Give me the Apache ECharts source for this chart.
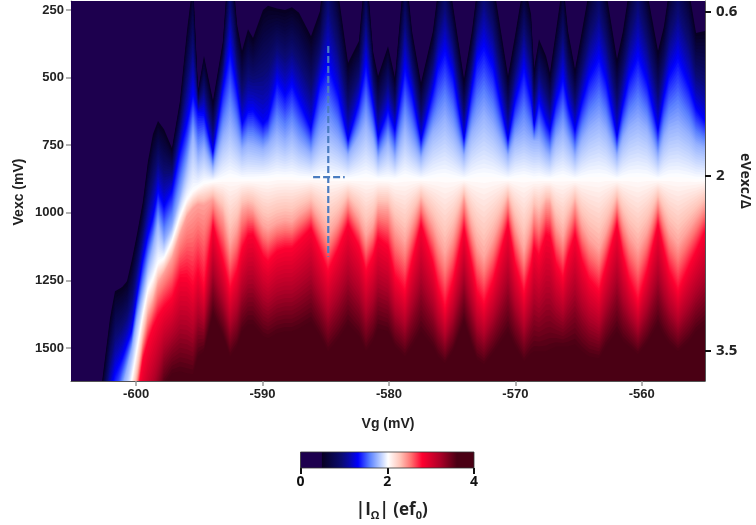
<!DOCTYPE html>
<html><head><meta charset="utf-8">
<style>html,body{margin:0;padding:0;background:#fff}#c{width:756px;height:525px}</style>
<script src="https://cdn.jsdelivr.net/npm/echarts@6/dist/echarts.min.js"></script>
</head><body><div id="c"></div>
<script>
// Gate voltage of each read column (mV)
const vg = [-605.15,-602.7,-602.1,-601.7,-601.1,-600.7,-600.3,-599.9,-599.45,-599.05,-598.7,-598.25,-597.8,-597.15,-596.5,-595.95,-595.5,-595.1,-594.6,-593.9,-593.1,-592.55,-592,-591.6,-591.15,-590.75,-589.95,-589.6,-588.85,-588.2,-587.65,-587.15,-586.2,-585.45,-584.8,-584,-583.2,-582.4,-581.85,-581.3,-580.85,-580.1,-579.55,-578.7,-578.15,-577.45,-576.55,-576.15,-575.55,-574.95,-574.1,-573.4,-573,-572.45,-571.75,-570.6,-570,-569.35,-568.8,-568.55,-568.1,-567.6,-567.3,-566.75,-566.25,-565.8,-565.3,-564.7,-564.2,-563.4,-562.85,-562,-561.5,-561,-560.3,-559.6,-558.75,-558.25,-557.85,-557.1,-556.3,-555.75,-555];
// Vexc (mV) at which |I| reaches each colour level, per column
const vexcAt0p5 = [3177,1627,1390,1290,1275,1253,1172,1079,957,809,709,661,691,761,587,328,143,550,420,587,365,-5,302,402,321,354,250,235,245,250,240,260,347,254,-42,180,446,365,69,402,495,384,502,69,328,520,328,180,32,235,506,328,180,-5,143,495,347,143,265,469,358,420,483,328,143,328,469,328,180,32,180,432,328,180,-5,180,402,310,180,32,180,335,328];
const vexcAt1p33 = [3547,1864,1678,1593,1538,1486,1434,1309,1172,1083,1016,920,976,920,772,668,561,630,635,783,540,402,550,672,624,620,672,650,513,565,524,585,690,520,450,560,735,590,450,600,724,620,698,465,560,735,550,460,402,490,735,540,430,385,460,735,590,465,580,687,587,665,698,590,502,600,698,590,500,428,510,724,600,500,420,515,698,570,490,428,530,615,661];
const vexcAt1p75 = [3732,2104,1900,1801,1653,1579,1501,1394,1290,1198,1124,1040,1105,1050,939,828,709,790,761,835,720,672,725,765,746,750,765,750,709,735,709,745,783,725,698,735,787,720,672,730,798,740,795,687,740,798,700,680,650,700,790,700,670,635,680,790,730,709,730,735,735,775,790,730,698,735,790,730,690,661,695,790,725,685,661,690,790,720,685,672,710,745,761];
const vexcAt2p02 = [3917,2252,2030,1956,1808,1723,1612,1505,1375,1283,1242,1186,1168,1105,1013,950,920,905,890,883,876,868,872,876,876,876,872,872,868,868,868,872,872,868,868,872,876,872,868,872,876,876,876,868,872,876,872,868,868,872,876,872,868,868,868,876,872,868,872,876,872,876,876,872,868,872,876,872,868,868,868,876,872,868,868,868,876,872,868,868,872,876,876];
const vexcAt2p4 = [3991,2345,2122,2049,1938,1845,1727,1612,1468,1375,1327,1260,1223,1168,1079,1013,983,968,972,950,1008,1115,1059,990,978,987,1047,1059,1038,1029,1034,1008,975,1029,1085,1029,957,1021,1085,1047,983,987,1059,1110,1038,957,1047,1097,1154,1085,946,1059,1123,1169,1097,950,1047,1143,1047,996,1021,965,965,1047,1092,1034,965,1047,1097,1136,1072,957,1029,1085,1136,1072,957,1021,1072,1118,1059,1021,975];
const vexcAt2p8 = [4028,2400,2178,2086,1986,1900,1790,1690,1542,1475,1423,1383,1349,1316,1238,1238,1271,1216,1279,1046,1179,1283,1216,1135,1083,1079,1160,1179,1142,1131,1131,1105,1057,1142,1216,1135,1042,1124,1216,1160,1094,1124,1235,1290,1179,1042,1186,1271,1353,1253,1057,1197,1290,1338,1253,1042,1186,1301,1197,1124,1160,1079,1087,1186,1242,1160,1079,1179,1246,1290,1197,1042,1160,1246,1327,1216,1042,1142,1216,1290,1197,1142,1068];
const vexcAt3p6 = [4287,2807,2585,2511,2437,2363,2289,2178,2030,1919,1845,1752,1641,1593,1586,1593,1597,1531,1512,1375,1456,1531,1494,1438,1412,1412,1456,1464,1445,1438,1438,1427,1401,1456,1512,1468,1412,1456,1512,1475,1427,1438,1494,1531,1494,1438,1494,1531,1556,1512,1401,1494,1542,1560,1519,1438,1494,1549,1519,1512,1512,1512,1505,1494,1494,1494,1486,1512,1531,1538,1494,1438,1475,1494,1523,1482,1412,1456,1482,1512,1475,1438,1412];
const levelValues = [0.5,1.33,1.75,2.02,2.4,2.8,3.6];
// Colour scale and axis ticks
const colorStops = [[0,'#1d004e'],[0.49,'#1d004e'],[0.5,'#070020'],[0.95,'#0a0a70'],[1.15,'#0808b0'],[1.33,'#0000ff'],[1.6,'#5a80ff'],[1.8,'#a8c0ff'],[2.02,'#ffffff'],[2.3,'#ffc4b8'],[2.55,'#ff7070'],[2.8,'#ff0030'],[3.2,'#b00028'],[3.6,'#4a0014'],[4,'#4a0014']];
const vgTicks = [-600,-590,-580,-570,-560];
const vexcTicks = [250,500,750,1000,1250,1500];
const ratioTicks = [0.6,2,3.5];
const cbarTicks = [0,2,4];
// Blue dashed cross
const crossV = [[-584.8,383],[-584.8,1163]];
const crossH = [[-586,868],[-583.5,868]];

function hex(c){return [1,3,5].map(i=>parseInt(c.substr(i,2),16));}
function colorOf(v){
  for(let i=1;i<colorStops.length;i++){
    if(v<=colorStops[i][0]){
      const a=colorStops[i-1],b=colorStops[i],t=(v-a[0])/(b[0]-a[0]||1);
      const A=hex(a[1]),B=hex(b[1]);
      return 'rgb('+A.map((x,j)=>Math.round(x+(B[j]-x)*t)).join(',')+')';
    }
  }
  return colorStops[colorStops.length-1][1];
}
const levels=[vexcAt0p5,vexcAt1p33,vexcAt1p75,vexcAt2p02,vexcAt2p4,vexcAt2p8,vexcAt3p6];
const subBands=[24,16,14,14,16,20];
const FLOOR=5000;
const YMIN=217,YMAX=1622;
const rows=vg.map((v,i)=>[v].concat(levels.map(a=>a[i])));

function poly(api,x0,x1,a0,a1,col){
  const pts=[[x0,a0],[x1,a1],[x1,FLOOR],[x0,FLOOR]].map(p=>{const c=api.coord(p);return [Math.round(c[0]),c[1]];});
  return {type:'polygon',shape:{points:pts},style:{fill:col}};
}
function renderField(params,api){
  const i=params.dataIndex;
  if(i>=rows.length-1) return {type:'group',children:[]};
  const r0=rows[i],r1=rows[i+1],x0=r0[0],x1=r1[0],ch=[];
  ch.push(poly(api,x0,x1,-500,-500,colorOf(0.2)));
  for(let k=0;k<levelValues.length-1;k++){
    const n=subBands[k];
    for(let s=0;s<n;s++){
      const t=s/n;
      const a0=r0[k+1]+(r0[k+2]-r0[k+1])*t;
      const a1=r1[k+1]+(r1[k+2]-r1[k+1])*t;
      const val=levelValues[k]+(levelValues[k+1]-levelValues[k])*(s+0.5)/n;
      ch.push(poly(api,x0,x1,a0,a1,colorOf(val)));
    }
  }
  ch.push(poly(api,x0,x1,r0[7],r1[7],colorOf(3.9)));
  return {type:'group',children:ch};
}
function renderBar(params,api){
  const p0=api.coord([0,1]),p1=api.coord([4,0]);
  return {type:'rect',shape:{x:p0[0],y:p0[1],width:p1[0]-p0[0],height:p1[1]-p0[1]},
    style:{stroke:'#333',lineWidth:0.8,fill:new echarts.graphic.LinearGradient(0,0,1,0,colorStops.map(s=>({offset:s[0]/4,color:s[1]})))}};
}
const FONT='"Open Sans"',ARIAL='"Liberation Sans"';
const plain=v=>String(v);
const chart=echarts.init(document.getElementById('c'),null,{renderer:'canvas'});
chart.setOption({
  animation:false,
  backgroundColor:'#fff',
  graphic:[
    {type:'text',x:19,y:192,rotation:Math.PI/2,style:{text:'Vexc (mV)',align:'center',verticalAlign:'middle',fill:'#222',font:'bold 14px "Liberation Sans"'}},
    {type:'text',x:745,y:181,rotation:-Math.PI/2,style:{text:'eVexc/Δ',align:'center',verticalAlign:'middle',fill:'#222',font:'bold 14px "Open Sans"'}}
  ],
  grid:[{left:71,top:1,width:634,height:380,outerBoundsMode:'none'},{left:300.5,top:452,width:173.5,height:16,outerBoundsMode:'none'}],
  xAxis:[
    {type:'value',gridIndex:0,min:-605.15,max:-555,position:'bottom',
     axisLine:{show:true,onZero:false,lineStyle:{color:'#555',width:1}},
     axisTick:{show:true,customValues:vgTicks,length:5,lineStyle:{color:'#999',width:1.5}},
     axisLabel:{customValues:vgTicks,formatter:plain,color:'#222',fontFamily:ARIAL,fontWeight:'bold',fontSize:13,margin:7},
     splitLine:{show:false},
     name:'Vg (mV)',nameLocation:'middle',nameGap:36,nameTextStyle:{color:'#222',fontFamily:ARIAL,fontWeight:'bold',fontSize:14}},
    {type:'value',gridIndex:0,min:-605.15,max:-555,position:'top',
     axisLine:{show:true,onZero:false,lineStyle:{color:'#aaa',width:1}},axisTick:{show:false},axisLabel:{show:false},splitLine:{show:false}},
    {type:'value',gridIndex:1,min:0,max:4,
     axisLine:{show:false},
     axisTick:{show:true,customValues:cbarTicks,length:6,lineStyle:{color:'#111',width:2}},
     axisLabel:{customValues:cbarTicks,formatter:plain,color:'#111',fontFamily:FONT,fontWeight:'bold',fontSize:14,margin:7},
     splitLine:{show:false},
     name:'{a||I}{s|Ω}{a|| (ef}{s|0}{a|)}',nameLocation:'middle',nameGap:31,
     nameTextStyle:{padding:[0,0,0,9],rich:{a:{fontFamily:FONT,fontWeight:'bold',fontSize:17,color:'#222',lineHeight:22,verticalAlign:'middle'},
       s:{fontFamily:FONT,fontWeight:'bold',fontSize:11,color:'#222',lineHeight:22,verticalAlign:'bottom'}}}}
  ],
  yAxis:[
    {type:'value',gridIndex:0,min:YMIN,max:YMAX,inverse:true,position:'left',
     axisLine:{show:true,onZero:false,lineStyle:{color:'#999',width:1}},
     axisTick:{show:true,customValues:vexcTicks,length:5,lineStyle:{color:'#999',width:1.5}},
     axisLabel:{customValues:vexcTicks,formatter:plain,color:'#222',fontFamily:ARIAL,fontWeight:'bold',fontSize:13,margin:7},
     splitLine:{show:false}},
    {type:'value',gridIndex:0,min:0.508,max:3.757,inverse:true,position:'right',
     axisLine:{show:true,onZero:false,lineStyle:{color:'#555',width:1}},
     axisTick:{show:true,customValues:ratioTicks,length:6,lineStyle:{color:'#111',width:2}},
     axisLabel:{customValues:ratioTicks,formatter:plain,color:'#222',fontFamily:FONT,fontWeight:'bold',fontSize:15,margin:11},
     splitLine:{show:false}},
    {type:'value',gridIndex:1,min:0,max:1,show:false}
  ],
  series:[
    {type:'custom',xAxisIndex:0,yAxisIndex:0,clip:true,silent:true,data:rows,renderItem:renderField,progressive:0,encode:{x:0,y:1}},
    {type:'line',xAxisIndex:0,yAxisIndex:0,data:crossV,symbol:'none',silent:true,z:5,lineStyle:{color:'#4a7cc0',width:2.2,type:[7,3]}},
    {type:'line',xAxisIndex:0,yAxisIndex:0,data:crossH,symbol:'none',silent:true,z:5,lineStyle:{color:'#4a7cc0',width:2.2,type:[7,3]}},
    {type:'custom',xAxisIndex:2,yAxisIndex:2,silent:true,data:[[0,1]],renderItem:renderBar,encode:{x:0,y:1}}
  ]
});
</script></body></html>
